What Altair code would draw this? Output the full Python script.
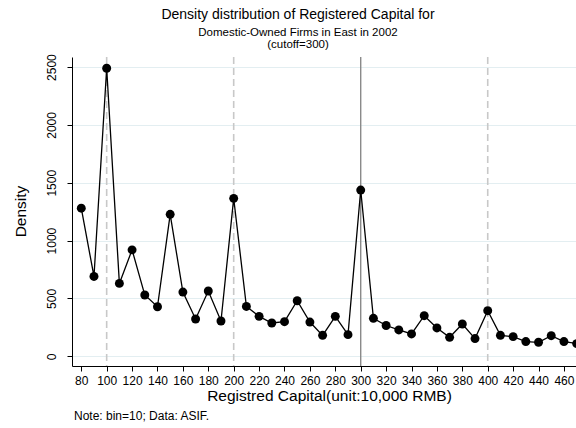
import altair as alt
import pandas as pd

capital = [80, 90, 100, 110, 120, 130, 140, 150, 160, 170, 180, 190, 200, 210, 220, 230,
           240, 250, 260, 270, 280, 290, 300, 310, 320, 330, 340, 350, 360, 370, 380, 390,
           400, 410, 420, 430, 440, 450, 460, 470]
density = [1280, 690, 2490, 630, 920, 530, 428, 1227, 555, 322, 564, 305, 1365, 431, 345, 288,
           299, 480, 296, 181, 345, 187, 1437, 328, 266, 228, 193, 351, 245, 164, 279, 153,
           394, 181, 170, 127, 121, 178, 127, 110]
dashed_refs = [100, 200, 400]
cutoff = [300]
x_ticks = list(range(80, 461, 20))
y_ticks = [0, 500, 1000, 1500, 2000, 2500]

df = pd.DataFrame({"capital": capital, "density": density})
df_dash = pd.DataFrame({"x": dashed_refs})
df_cut = pd.DataFrame({"x": cutoff})

FONT = "Liberation Sans"

xscale = alt.Scale(domain=[72.7, 469.5], nice=False, zero=False)
yscale = alt.Scale(domain=[-84, 2587], nice=False, zero=False)

xaxis = alt.Axis(values=x_ticks, grid=False, title="Registred Capital(unit:10,000 RMB)",
                 format="d", labelOverlap=False, labelBound=False,
                 labelFontSize=12, labelPadding=4, tickSize=5, tickColor="black",
                 domainColor="black", labelColor="black", titleFontSize=15.5,
                 titleFontWeight="normal", titleColor="black", titleX=257, titleY=34,
                 titleAlign="center", titleBaseline="alphabetic", labelFlush=False)
yaxis = alt.Axis(values=y_ticks, grid=True, gridColor="#e3eef1", title="Density",
                 format="d", labelOverlap=False,
                 labelFontSize=12, labelAngle=270, labelAlign="center",
                 labelBaseline="alphabetic", labelPadding=12, tickSize=5,
                 tickColor="black", domainColor="black", labelColor="black",
                 titleFontSize=15.5, titleFontWeight="normal", titleColor="black",
                 titleAngle=270, titleX=-47, titleY=154, titleAlign="center",
                 titleBaseline="alphabetic")

base = alt.Chart(df)

dash_rules = alt.Chart(df_dash).mark_rule(color="#c8c8c8", strokeWidth=1.6,
                                          strokeDash=[7, 4]).encode(
    x=alt.X("x:Q", scale=xscale, axis=xaxis))
cut_rule = alt.Chart(df_cut).mark_rule(color="#8a8a8a", strokeWidth=1.4).encode(
    x=alt.X("x:Q", scale=xscale, axis=xaxis))

line = base.mark_line(color="black", strokeWidth=1.3, clip=True).encode(
    x=alt.X("capital:Q", scale=xscale, axis=xaxis),
    y=alt.Y("density:Q", scale=yscale, axis=yaxis))
points = base.mark_circle(color="black", opacity=1, size=80, clip=True).encode(
    x=alt.X("capital:Q", scale=xscale, axis=xaxis),
    y=alt.Y("density:Q", scale=yscale, axis=yaxis))

note = alt.Chart(pd.DataFrame({"t": ["Note: bin=10; Data: ASIF."]})).mark_text(
    align="left", baseline="alphabetic", fontSize=12, font=FONT, color="black").encode(
    x=alt.value(2), y=alt.value(363), text="t:N")

chart = alt.layer(dash_rules, cut_rule, line, points, note).properties(
    width=504, height=309,
    autosize=alt.AutoSizeParams(type="none"),
    padding={"left": 72, "top": 57, "right": 0, "bottom": 62},
    title=alt.Title("Density distribution of Registered Capital for",
                    subtitle=["Domestic-Owned Firms in East in 2002", "(cutoff=300)"],
                    fontSize=14, subtitleFontSize=11.5, fontWeight="normal",
                    color="black", subtitleColor="black", anchor="middle", dx=-26,
                    offset=3, subtitlePadding=5, font=FONT, subtitleFont=FONT,
                    subtitleLineHeight=12)
).configure(font=FONT, background="white").configure_view(stroke=None
).configure_axisX(labelOverlap=False)

chart.save("out.html", embed_options={"renderer": "svg", "actions": False})
